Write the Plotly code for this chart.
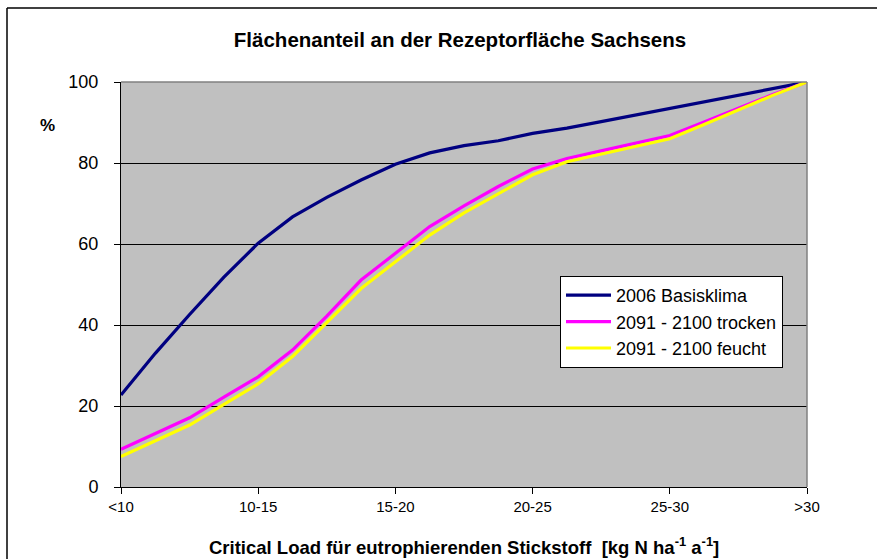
import plotly.graph_objects as go

# category tick labels (positions 0..5 on the category axis)
tick_labels = ["<10", "10-15", "15-20", "20-25", "25-30", ">30"]
tick_pos = [0, 1, 2, 3, 4, 5]

# sampling positions along the category axis (quarter steps)
x_pos = [0.0, 0.25, 0.5, 0.75, 1.0, 1.25, 1.5, 1.75, 2.0, 2.25, 2.5,
         2.75, 3.0, 3.25, 3.5, 3.75, 4.0, 4.25, 4.5, 4.75, 5.0]

basisklima_2006 = [22.7, 33.0, 42.6, 51.8, 60.2, 66.7, 71.5, 75.8, 79.7, 82.5, 84.3,
                   85.5, 87.3, 88.6, 90.2, 91.8, 93.5, 95.1, 96.8, 98.4, 100.0]
trocken_2091 = [9.3, 13.2, 17.1, 22.2, 27.2, 33.8, 42.2, 51.1, 57.6, 64.3, 69.4,
                74.2, 78.5, 81.1, 83.0, 84.9, 86.8, 90.1, 93.5, 96.9, 100.0]
feucht_2091 = [7.5, 11.5, 15.3, 20.4, 25.5, 32.2, 40.6, 49.0, 55.6, 62.2, 67.7,
               72.5, 77.1, 80.3, 82.2, 84.1, 86.0, 89.5, 93.1, 96.7, 100.0]

series_names = ["2006 Basisklima", "2091 - 2100 trocken", "2091 - 2100 feucht"]
series_colors = ["#000080", "#FF00FF", "#FFFF00"]

FONT = "Liberation Sans, Arial, sans-serif"

fig = go.Figure()
for name, vals, col in zip(series_names, [basisklima_2006, trocken_2091, feucht_2091], series_colors):
    fig.add_trace(go.Scatter(x=x_pos, y=vals, mode="lines", name=name,
                             line=dict(color=col, width=3.2)))

W, H = 877, 559
L, R, T, B = 121, 70, 82, 72
pw, ph = W - L - R, H - T - B

def px_x(px):
    return (px - L) / pw

def px_y(py):
    return (H - B - py) / ph

fig.update_layout(
    width=W, height=H,
    margin=dict(l=L, r=R, t=T, b=B, pad=0),
    paper_bgcolor="white",
    plot_bgcolor="#C0C0C0",
    font=dict(family=FONT, color="black"),
    title=dict(text="<b>Flächenanteil an der Rezeptorfläche Sachsens</b>",
               font=dict(size=20.5, family=FONT, color="black"),
               x=(460 / W), xanchor="center", xref="container",
               y=1 - 40 / H, yanchor="middle", yref="container"),
    showlegend=True,
    legend=dict(x=px_x(560), y=px_y(276), xanchor="left", yanchor="top",
                bgcolor="white", bordercolor="black", borderwidth=1,
                font=dict(size=18, family=FONT, color="black"),
                tracegroupgap=0, itemwidth=45),
    xaxis=dict(range=[0, 5], tickvals=tick_pos, ticktext=tick_labels,
               showgrid=False, zeroline=False, showline=True,
               linecolor="black", linewidth=1,
               ticks="outside", ticklen=6, tickcolor="black",
               tickfont=dict(size=15, family=FONT, color="black")),
    yaxis=dict(range=[0, 100], tickvals=[0, 20, 40, 60, 80, 100],
               showgrid=True, gridcolor="black", gridwidth=1,
               zeroline=False, showline=True, linecolor="black", linewidth=1,
               ticks="outside", ticklen=6, tickcolor="black",
               ticklabelstandoff=12,
               tickfont=dict(size=18, family=FONT, color="black")),
)

# axis title and unit label
fig.add_annotation(text="<b>Critical Load für eutrophierenden Stickstoff  [kg N ha<sup>-1</sup> a<sup>-1</sup>]</b>",
                   xref="paper", yref="paper", x=px_x(464), y=px_y(546),
                   xanchor="center", yanchor="middle", showarrow=False,
                   font=dict(size=18.5, family=FONT, color="black"))
fig.add_annotation(text="<b>%</b>", xref="paper", yref="paper",
                   x=px_x(47), y=px_y(125), xanchor="center", yanchor="middle",
                   showarrow=False, font=dict(size=17, family=FONT, color="black"))

# grey plot-area border on top and right
fig.add_shape(type="line", xref="paper", yref="paper", x0=0, x1=1, y0=1, y1=1,
              line=dict(color="#808080", width=1.5), layer="above")
fig.add_shape(type="line", xref="paper", yref="paper", x0=1, x1=1, y0=0, y1=1,
              line=dict(color="#808080", width=1.5), layer="above")

# outer chart frame (left and top edges visible)
fig.add_shape(type="line", xref="paper", yref="paper",
              x0=px_x(7), x1=px_x(7), y0=px_y(8), y1=px_y(H + 5),
              line=dict(color="black", width=1.5), layer="above")
fig.add_shape(type="line", xref="paper", yref="paper",
              x0=px_x(7), x1=px_x(W + 5), y0=px_y(8), y1=px_y(8),
              line=dict(color="black", width=1.5), layer="above")

fig.write_html("out.html",
               config={"displayModeBar": False},
               post_script="document.body.style.margin='0';document.body.style.overflow='hidden';")
